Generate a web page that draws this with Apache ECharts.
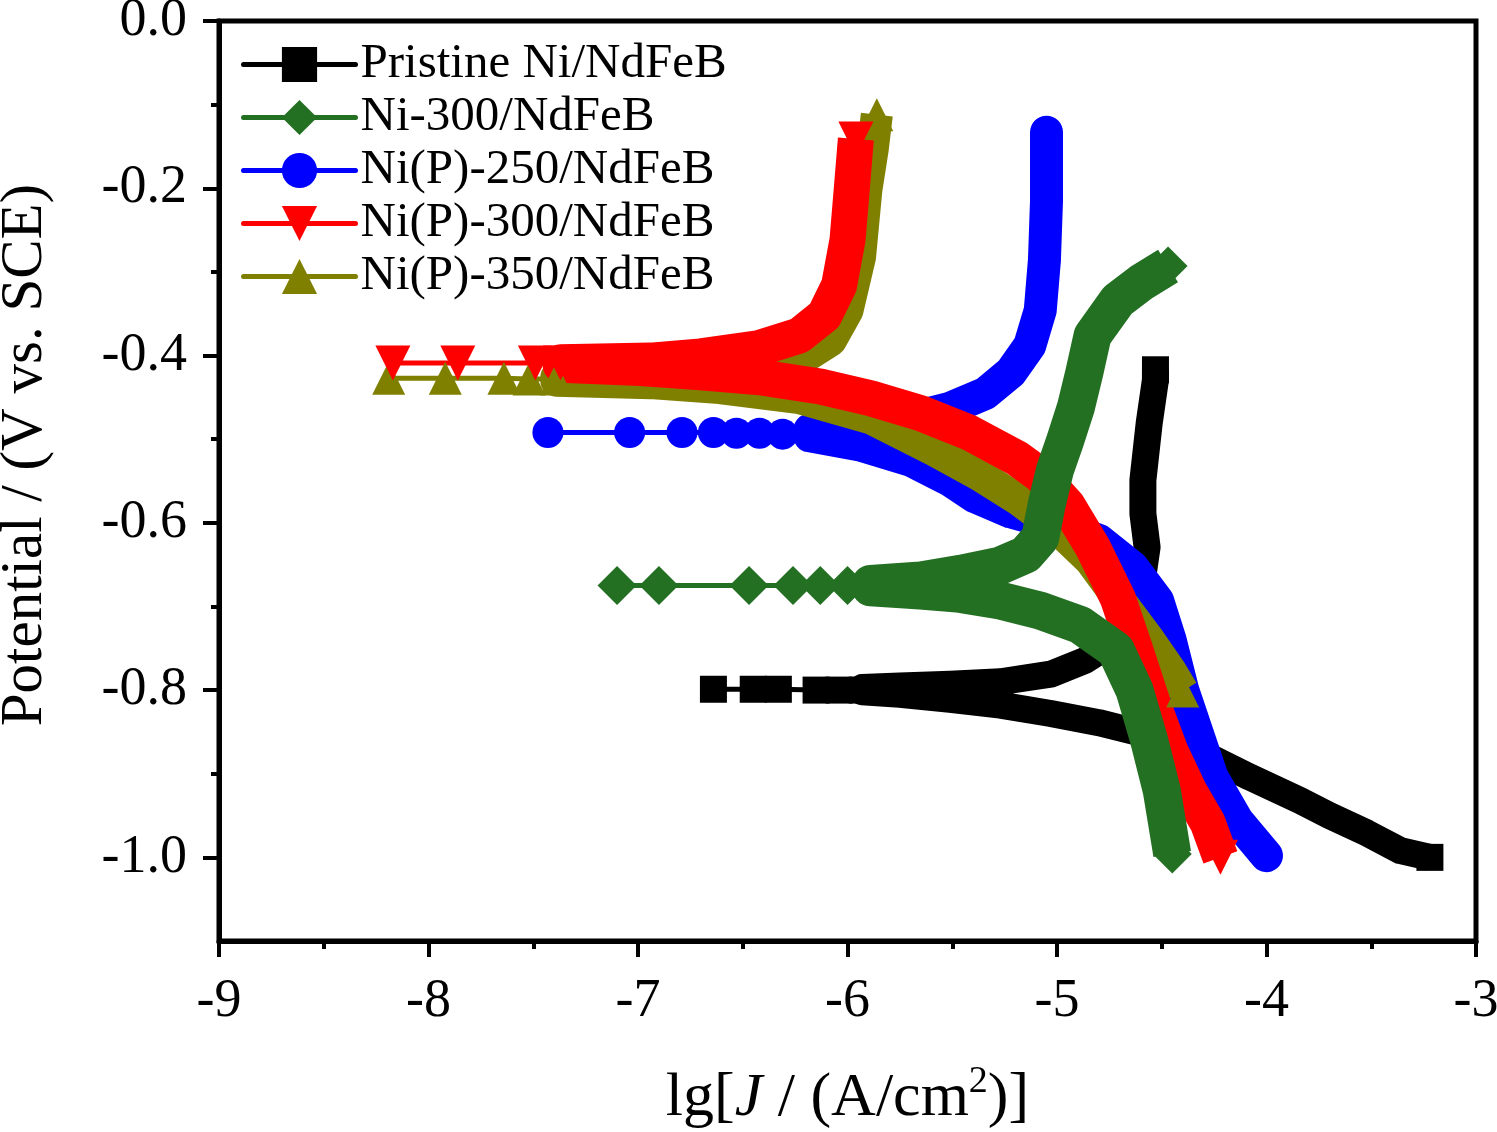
<!DOCTYPE html>
<html style="height: 100%">

<head>
    <meta charset="utf-8">
</head>

<body style="height: 100%; margin: 0; background: #fff">

    <div id="container" style="width: 1497px; height: 1132px"></div>

    <script type="text/javascript" src="https://cdn.jsdelivr.net/npm/echarts@6/dist/echarts.min.js"></script>

    <script type="text/javascript">
        // legend order
        var names = ['Pristine Ni/NdFeB', 'Ni-300/NdFeB', 'Ni(P)-250/NdFeB', 'Ni(P)-300/NdFeB', 'Ni(P)-350/NdFeB'];

        // y axis ticks
        var yMajorTicks = [0, -0.2, -0.4, -0.6, -0.8, -1.0];
        var yMinorTicks = [-0.1, -0.3, -0.5, -0.7, -0.9];

        // each curve: [lgJ, E]  cathodic branch (from -1.0 V up), anodic branch, and the points around Ecorr
        var blackCathodic = [[-3.22, -1.000], [-3.36, -0.992], [-3.52, -0.971], [-3.70, -0.950], [-3.84, -0.932], [-4.08, -0.904], [-4.32, -0.874], [-4.56, -0.854], [-4.80, -0.839], [-5.03, -0.828], [-5.27, -0.818], [-5.51, -0.811], [-5.75, -0.805], [-5.93, -0.802]];
        var blackAnodic = [[-5.93, -0.797], [-5.75, -0.795], [-5.51, -0.793], [-5.27, -0.790], [-5.03, -0.781], [-4.87, -0.765], [-4.75, -0.746], [-4.65, -0.719], [-4.60, -0.681], [-4.57, -0.629], [-4.59, -0.589], [-4.59, -0.549], [-4.56, -0.481], [-4.53, -0.429], [-4.53, -0.417]];
        var blackEcorr = [[-6.64, -0.799], [-6.45, -0.799], [-6.33, -0.799], [-6.15, -0.800], [-6.04, -0.800], [-5.93, -0.800]];

        var greenCathodic = [[-4.45, -0.996], [-4.50, -0.920], [-4.56, -0.860], [-4.63, -0.800], [-4.72, -0.752], [-4.89, -0.722], [-5.08, -0.705], [-5.27, -0.693], [-5.46, -0.685], [-5.65, -0.681], [-5.89, -0.677]];
        var greenAnodic = [[-5.89, -0.673], [-5.65, -0.669], [-5.46, -0.661], [-5.27, -0.651], [-5.15, -0.638], [-5.08, -0.618], [-5.05, -0.579], [-5.01, -0.537], [-4.96, -0.501], [-4.91, -0.462], [-4.87, -0.421], [-4.83, -0.376], [-4.71, -0.334], [-4.60, -0.313], [-4.47, -0.293]];
        var greenEcorr = [[-7.10, -0.675], [-6.90, -0.675], [-6.47, -0.675], [-6.26, -0.675], [-6.13, -0.675], [-6.00, -0.675], [-5.89, -0.675]];

        var blueCathodic = [[-4.00, -0.998], [-4.14, -0.956], [-4.26, -0.904], [-4.33, -0.852], [-4.40, -0.800], [-4.46, -0.740], [-4.52, -0.693], [-4.64, -0.653], [-4.80, -0.621], [-4.99, -0.603], [-5.22, -0.587], [-5.39, -0.569], [-5.51, -0.549], [-5.70, -0.525], [-5.94, -0.507], [-6.18, -0.496]];
        var blueAnodic = [[-6.18, -0.489], [-5.94, -0.483], [-5.70, -0.475], [-5.51, -0.463], [-5.34, -0.445], [-5.22, -0.420], [-5.13, -0.388], [-5.08, -0.346], [-5.06, -0.286], [-5.05, -0.214], [-5.05, -0.133]];
        var blueEcorr = [[-7.43, -0.492], [-7.04, -0.492], [-6.79, -0.492], [-6.64, -0.492], [-6.53, -0.493], [-6.42, -0.493], [-6.31, -0.494], [-6.18, -0.494]];

        var redCathodic = [[-4.22, -1.000], [-4.28, -0.959], [-4.37, -0.920], [-4.46, -0.872], [-4.54, -0.818], [-4.63, -0.749], [-4.71, -0.690], [-4.83, -0.629], [-4.95, -0.579], [-5.08, -0.543], [-5.19, -0.523], [-5.42, -0.492], [-5.65, -0.469], [-5.89, -0.451], [-6.13, -0.437], [-6.42, -0.426], [-6.70, -0.420], [-6.99, -0.415], [-7.37, -0.411]];
        var redAnodic = [[-7.37, -0.408], [-6.94, -0.406], [-6.70, -0.401], [-6.42, -0.391], [-6.23, -0.376], [-6.11, -0.352], [-6.04, -0.316], [-6.00, -0.262], [-5.98, -0.202], [-5.96, -0.141]];
        var redEcorr = [[-8.17, -0.409], [-7.86, -0.409], [-7.49, -0.409], [-7.37, -0.409]];

        var oliveCathodic = [[-4.40, -0.801], [-4.46, -0.776], [-4.56, -0.740], [-4.70, -0.693], [-4.84, -0.645], [-4.99, -0.609], [-5.18, -0.573], [-5.37, -0.543], [-5.59, -0.513], [-5.89, -0.475], [-6.23, -0.451], [-6.61, -0.439], [-6.94, -0.433], [-7.39, -0.430]];
        var oliveAnodic = [[-7.39, -0.426], [-6.94, -0.425], [-6.70, -0.423], [-6.42, -0.417], [-6.23, -0.406], [-6.08, -0.382], [-6.00, -0.346], [-5.94, -0.282], [-5.91, -0.202], [-5.88, -0.154], [-5.86, -0.112]];
        var oliveEcorr = [[-8.19, -0.427], [-7.92, -0.427], [-7.64, -0.427], [-7.52, -0.428], [-7.39, -0.428]];

        var font = '"Times New Roman", "Liberation Serif", serif';

        // thick band (dense part of the scan) + thin line with markers near Ecorr
        function curve(name, color, symbol, size, width, cap, rotate, cathodic, anodic, ecorr) {
            var band = cathodic.concat(anodic);
            var last = band.length - 1;
            return [{
                type: 'line',
                name: name + ' band',
                data: band,
                symbol: symbol,
                // only the two ends of the band keep their marker shape
                symbolSize: function (v, p) {
                    return (p.dataIndex === 0 || p.dataIndex === last) ? size : 0;
                },
                symbolRotate: rotate,
                itemStyle: { color: color },
                lineStyle: { color: color, width: width, cap: cap, join: 'round' },
                silent: true
            }, {
                type: 'line',
                name: name,
                data: ecorr,
                symbol: symbol,
                symbolSize: size,
                symbolRotate: rotate,
                itemStyle: { color: color },
                lineStyle: { color: color, width: 5, cap: 'round' },
                silent: true
            }];
        }

        var series = [].concat(
            curve(names[0], '#000000', 'rect', 27, 27, 'butt', 0, blackCathodic, blackAnodic, blackEcorr),
            curve(names[2], '#0000ff', 'circle', 31, 33, 'round', 0, blueCathodic, blueAnodic, blueEcorr),
            curve(names[4], '#808000', 'triangle', 33, 32, 'butt', 0, oliveCathodic, oliveAnodic, oliveEcorr),
            curve(names[3], '#ff0000', 'triangle', 35, 36, 'butt', 180, redCathodic, redAnodic, redEcorr),
            curve(names[1], '#237023', 'diamond', 39, 38, 'butt', 0, greenCathodic, greenAnodic, greenEcorr)
        );

        var dom = document.getElementById("container");
        var myChart = echarts.init(dom);

        var option = {
            animation: false,
            backgroundColor: '#fff',
            grid: {
                left: 219, right: 21, top: 21, bottom: 191,
                outerBoundsMode: 'none',
                show: true, borderColor: '#000', borderWidth: 5
            },
            legend: {
                data: names,
                orient: 'vertical',
                left: 236, top: 35,
                itemWidth: 112, itemHeight: 44, itemGap: 4,
                lineStyle: { width: 5 },
                textStyle: { fontSize: 49, fontFamily: font, color: '#000', lineHeight: 46 }
            },
            xAxis: {
                type: 'value',
                min: -9, max: -3, interval: 1,
                axisLine: { show: true, onZero: false, lineStyle: { color: '#000', width: 5 } },
                axisTick: { show: true, inside: false, length: 16, lineStyle: { color: '#000', width: 4 } },
                minorTick: { show: true, splitNumber: 2, length: 8, lineStyle: { color: '#000', width: 4 } },
                axisLabel: { fontSize: 54, fontFamily: font, color: '#000', margin: 34 },
                splitLine: { show: false },
                name: 'lg[{i|J} / (A/cm{s|2})]',
                nameLocation: 'middle',
                nameGap: 122,
                nameTextStyle: {
                    fontSize: 62, fontFamily: font, color: '#000', lineHeight: 72,
                    rich: {
                        i: { fontSize: 62, fontFamily: font, fontStyle: 'italic', color: '#000', lineHeight: 72 },
                        s: { fontSize: 38, fontFamily: font, color: '#000', verticalAlign: 'top', lineHeight: 42 }
                    }
                }
            },
            yAxis: [{
                type: 'value',
                min: -1.1, max: 0,
                axisLine: { show: true, onZero: false, lineStyle: { color: '#000', width: 5 } },
                axisTick: { show: true, inside: false, length: 16, customValues: yMajorTicks, lineStyle: { color: '#000', width: 4 } },
                axisLabel: {
                    customValues: yMajorTicks,
                    fontSize: 54, fontFamily: font, color: '#000', margin: 32,
                    formatter: function (v) { return v.toFixed(1); }
                },
                splitLine: { show: false },
                name: 'Potential / (V vs. SCE)',
                nameLocation: 'middle',
                nameGap: 164,
                nameTextStyle: { fontSize: 59, fontFamily: font, color: '#000', padding: [0, 0, 0, 52] }
            }, {
                type: 'value',
                position: 'left',
                min: -1.1, max: 0,
                axisLine: { show: false },
                axisTick: { show: true, inside: false, length: 8, customValues: yMinorTicks, lineStyle: { color: '#000', width: 4 } },
                axisLabel: { show: false },
                splitLine: { show: false }
            }],
            series: series
        };

        myChart.setOption(option);
    </script>
</body>

</html>
